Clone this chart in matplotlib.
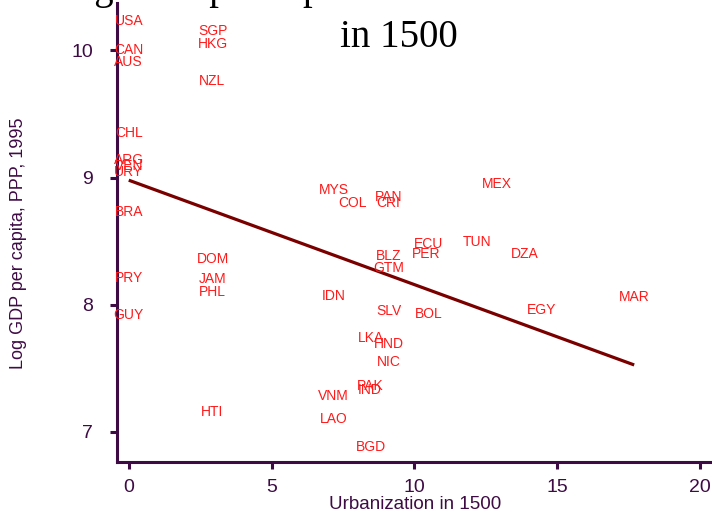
import numpy as np
import matplotlib
matplotlib.use('Agg')
from matplotlib import pyplot as plt

# country codes with urbanization in 1500 and log GDP per capita 1995
codes = ['USA', 'CAN', 'AUS', 'SGP', 'HKG', 'NZL', 'CHL', 'ARG', 'VEN', 'URY',
         'BRA', 'PRY', 'GUY', 'DOM', 'JAM', 'PHL', 'HTI', 'MYS', 'COL', 'PAN',
         'CRI', 'MEX', 'ECU', 'TUN', 'PER', 'BLZ', 'GTM', 'DZA', 'IDN', 'SLV',
         'BOL', 'EGY', 'MAR', 'LKA', 'HND', 'NIC', 'PAK', 'IND', 'VNM', 'LAO',
         'BGD']
urban1500 = [0.0, 0.0, 0.0, 2.94, 2.94, 2.9, 0.0, 0.0, 0.0, 0.0,
             0.0, 0.0, 0.0, 2.94, 2.94, 2.94, 2.9, 7.18, 7.85, 9.1,
             9.1, 12.9, 10.5, 12.2, 10.4, 9.1, 9.1, 13.87, 7.18, 9.1,
             10.5, 14.47, 17.7, 8.47, 9.1, 9.1, 8.44, 8.44, 7.18, 7.18,
             8.47]
loggdp95 = [10.23, 10.0, 9.91, 10.15, 10.05, 9.76, 9.35, 9.14, 9.09, 9.04,
            8.73, 8.21, 7.92, 8.36, 8.20, 8.10, 7.16, 8.90, 8.80, 8.85,
            8.80, 8.95, 8.48, 8.49, 8.40, 8.38, 8.29, 8.40, 8.07, 7.95,
            7.93, 7.96, 8.06, 7.74, 7.69, 7.55, 7.36, 7.33, 7.28, 7.10,
            6.88]

xticks = [0, 5, 10, 15, 20]
yticks = [7, 8, 9, 10]

axis_col = '#3f0b45'

plt.rcParams['font.family'] = ['Liberation Sans', 'DejaVu Sans']

fig = plt.figure(figsize=(7.12, 5.12), dpi=100)
ax = fig.add_axes([0.164, 0.0977, 0.839, 0.896])

x = np.array(urban1500)
y = np.array(loggdp95)

for c, xi, yi in zip(codes, x, y):
    ax.text(xi, yi, c, color='#ff1a1a', fontsize=10, ha='center', va='center')

# linear fit over the data range
b, a = np.polyfit(x, y, 1)
xs = np.array([x.min(), x.max()])
ax.plot(xs, a + b * xs, color='#7a0000', lw=2.3, solid_capstyle='butt')

ax.set_xlim(-0.42, 20.5)
ax.set_ylim(6.764, 10.37)
ax.set_xticks(xticks)
ax.set_yticks(yticks)

for s in ['top', 'right']:
    ax.spines[s].set_visible(False)
for s in ['left', 'bottom']:
    ax.spines[s].set_color(axis_col)
    ax.spines[s].set_linewidth(2.2)
ax.tick_params(colors=axis_col, width=2.2, length=5, labelsize=14)
ax.tick_params(axis='y', pad=12)
ax.tick_params(axis='x', pad=7)

ax.set_xlabel('Urbanization in 1500', color=axis_col, fontsize=13.5, labelpad=0)
ax.set_ylabel('Log GDP per capita, PPP, 1995', color=axis_col, fontsize=13)
ax.yaxis.set_label_coords(-0.15, 0.477)

fig.text(0.56, 0.908, 'Log GDP per capita in 1995 vs. urbanization\nin 1500',
         ha='center', va='baseline', fontsize=28, family='Liberation Serif',
         linespacing=1.38)

fig.savefig('out.png', dpi=100)
